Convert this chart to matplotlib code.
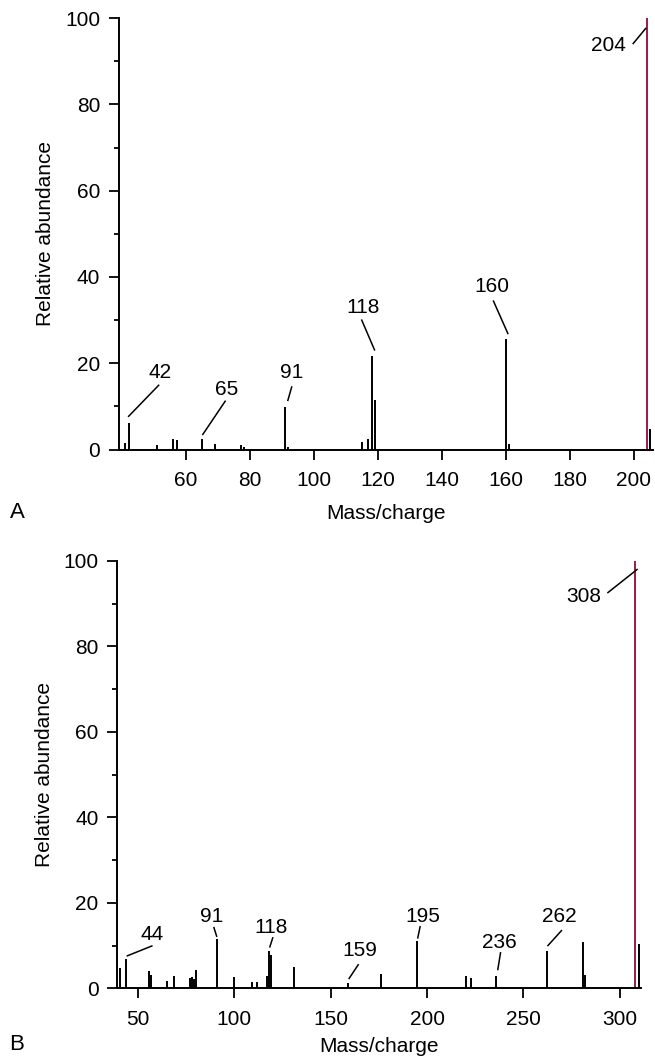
import matplotlib
matplotlib.use('Agg')
import matplotlib.pyplot as plt
from matplotlib.ticker import MultipleLocator

plt.rcParams['font.family'] = ['Liberation Sans', 'DejaVu Sans']

# Panel A spectrum (m/z, relative abundance)
a_mz = [41, 42, 51, 56, 57, 65, 69, 77, 78, 91, 92, 115, 117, 118, 119, 160, 161, 204, 205]
a_int = [1.6, 6.2, 1.0, 2.4, 2.3, 2.5, 1.4, 1.1, 0.5, 9.9, 0.6, 1.7, 2.4, 21.7, 11.4, 25.6, 1.2, 100, 4.7]
a_base = 204
a_ticks = [60, 80, 100, 120, 140, 160, 180, 200]

# Panel B spectrum
b_mz = [41, 44, 56, 57, 65, 69, 77, 78, 79, 80, 91, 100, 109, 112, 117, 118, 119, 131,
        159, 176, 195, 220, 223, 236, 262, 281, 282, 308, 310]
b_int = [4.7, 6.9, 4.1, 3.0, 1.7, 2.8, 2.3, 2.7, 2.2, 4.2, 11.5, 2.6, 1.4, 1.4, 2.8, 8.8, 7.8, 4.9,
         1.2, 3.3, 11.1, 2.8, 2.3, 2.9, 8.8, 10.9, 3.0, 100, 10.4]
b_base = 308
b_ticks = [50, 100, 150, 200, 250, 300]

# labelled peaks: (text, line start xy, line end xy, text xy)
a_notes = [
    ('42', (42.0, 7.7), (51.4, 14.9), (51.9, 17.9)),
    ('65', (65.2, 3.5), (72.2, 11.2), (72.5, 13.9)),
    ('91', (91.8, 11.4), (93.0, 14.5), (93.0, 17.9)),
    ('118', (118.9, 23.1), (114.9, 30.0), (115.3, 32.9)),
    ('160', (160.6, 26.9), (156.1, 34.4), (155.6, 37.9)),
    ('204', (203.7, 97.6), (199.8, 94.1), (192.0, 93.6)),
]
b_notes = [
    ('44', (44.6, 7.6), (57.3, 9.9), (57.3, 12.6)),
    ('91', (90.9, 12.2), (89.5, 14.2), (88.3, 16.9)),
    ('118', (118.5, 9.7), (120.0, 11.8), (118.9, 14.3)),
    ('159', (159.6, 2.3), (164.3, 5.5), (165.2, 8.8)),
    ('195', (195.2, 11.8), (196.4, 14.4), (197.7, 16.9)),
    ('236', (236.7, 4.4), (238.1, 8.3), (237.7, 10.8)),
    ('262', (262.7, 10.0), (269.7, 13.5), (268.8, 16.8)),
    ('308', (308.9, 98.0), (293.8, 92.6), (281.4, 91.6)),
]

red = '#9a1a42'
fs = 15
fig = plt.figure(figsize=(6.55, 10.57), dpi=100)
axA = fig.add_axes([0.1817, 0.5747, 0.8153, 0.4082])
axB = fig.add_axes([0.1791, 0.065, 0.7991, 0.4043])


def draw(ax, mz, inten, base, notes, xlim, xticks, xpad):
    colors = [red if m == base else 'black' for m in mz]
    ax.vlines(mz, 0, inten, colors=colors, linewidth=1.4)
    for txt, p0, p1, pt in notes:
        ax.plot([p0[0], p1[0]], [p0[1], p1[1]], color='black', linewidth=1.1)
        ax.text(pt[0], pt[1], txt, ha='center', va='center', fontsize=fs)
    ax.set_xlim(*xlim)
    ax.set_ylim(0, 100)
    ax.set_xticks(xticks)
    ax.yaxis.set_major_locator(MultipleLocator(20))
    ax.yaxis.set_minor_locator(MultipleLocator(10))
    for s in ['top', 'right']:
        ax.spines[s].set_visible(False)
    for s in ['left', 'bottom']:
        ax.spines[s].set_linewidth(1.4)
    ax.tick_params(which='major', length=7.5, width=1.3, labelsize=fs)
    ax.tick_params(axis='x', which='major', pad=8)
    ax.tick_params(axis='y', which='major', pad=6)
    ax.tick_params(which='minor', length=3.8, width=1.3)
    ax.set_xlabel('Mass/charge', fontsize=fs, labelpad=xpad)
    ax.set_ylabel('Relative abundance', fontsize=fs, labelpad=7)


draw(axA, a_mz, a_int, a_base, a_notes, (39, 206), a_ticks, 10)
draw(axB, b_mz, b_int, b_base, b_notes, (39.4, 310.8), b_ticks, 6)

fig.text(17 / 655, 1 - 512 / 1057, 'A', fontsize=16, ha='center', va='center')
fig.text(17 / 655, 1 - 1044 / 1057, 'B', fontsize=16, ha='center', va='center')

fig.savefig('out.png', dpi=100)
